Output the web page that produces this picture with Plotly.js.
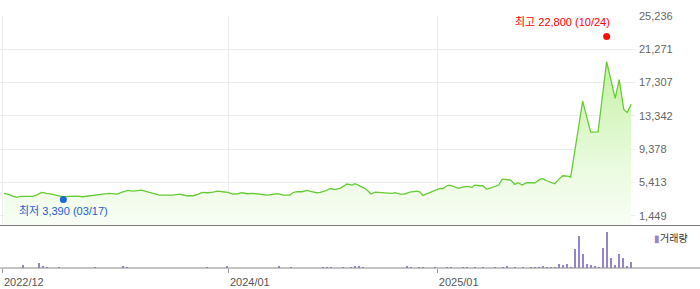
<!DOCTYPE html>
<html>
<head>
<meta charset="utf-8">
<script src="https://cdn.plot.ly/plotly-3.0.1.min.js"></script>
<style>html,body{margin:0;padding:0;background:#fff;}#chart{width:700px;height:289px;}</style>
</head>
<body>
<div id="chart"></div>
<script>
// ---- data ----
const priceDates = [
"2022-12-03","2022-12-11","2022-12-18","2022-12-25","2023-01-01","2023-01-12","2023-01-22","2023-01-29",
"2023-02-07","2023-02-16","2023-02-25","2023-03-07","2023-03-16","2023-03-28","2023-04-10","2023-04-20",
"2023-05-02","2023-05-15","2023-05-25","2023-06-06","2023-06-19","2023-06-27","2023-07-08","2023-07-17",
"2023-07-25","2023-08-01","2023-08-10","2023-08-19","2023-08-28","2023-09-02","2023-09-14","2023-09-25",
"2023-10-07","2023-10-19","2023-10-30","2023-11-08","2023-11-15","2023-11-25","2023-12-04","2023-12-13",
"2023-12-21","2023-12-30","2024-01-08","2024-01-17","2024-01-24","2024-02-02","2024-02-12","2024-02-24",
"2024-03-08","2024-03-18","2024-03-27","2024-04-05","2024-04-17","2024-04-22","2024-04-29","2024-05-08",
"2024-05-17","2024-05-25","2024-06-03","2024-06-09","2024-06-19","2024-06-26","2024-07-05","2024-07-14",
"2024-07-22","2024-07-26","2024-08-04","2024-08-09","2024-08-18","2024-08-26","2024-09-01","2024-09-06",
"2024-09-13","2024-09-22","2024-10-04","2024-10-13","2024-10-18","2024-10-27","2024-11-04","2024-11-13",
"2024-11-26","2024-12-01","2024-12-06","2024-12-13","2024-12-22","2024-12-31","2025-01-05","2025-01-10",
"2025-01-17","2025-01-22","2025-01-31","2025-02-07","2025-02-14","2025-02-23","2025-03-02","2025-03-07",
"2025-03-16","2025-03-21","2025-03-28","2025-04-04","2025-04-11","2025-04-18","2025-04-24","2025-05-02",
"2025-05-09","2025-05-16","2025-05-22","2025-05-29","2025-06-06","2025-06-17","2025-06-20","2025-06-29",
"2025-07-04","2025-07-11","2025-07-20","2025-07-25","2025-08-01","2025-08-08","2025-08-17","2025-08-22",
"2025-09-12","2025-09-26","2025-10-09","2025-10-24","2025-11-08","2025-11-15","2025-11-23","2025-11-29",
"2025-12-06"];
const priceValues = [
4113,3994,3792,3637,3756,3756,3756,3911,
4232,4113,4030,3828,3709,3756,3792,3709,
3828,3994,4030,4113,4030,4232,4470,4387,
4423,4506,4304,4113,3994,3911,3911,3911,
4030,3828,3828,3994,4232,4185,4268,4387,
4304,4232,4030,4066,4185,4066,4113,3994,
3911,3994,4066,3911,3911,4185,4304,4304,
4470,4304,4185,4232,4423,4660,4589,4708,
5017,5219,5100,5255,4981,4708,4387,4030,
4268,4232,4185,4113,4185,4030,4030,4268,
4387,4268,3875,4066,4304,4589,4708,4660,
5017,5100,4898,4708,4863,4946,4827,5100,
5017,5017,4589,4744,4981,5100,5814,5778,
5695,5184,5374,5100,5374,5374,5338,5778,
5850,5612,5338,5255,5778,6207,6171,6052,
15091,11404,11440,19813,15413,17672,14104,13747,
14735];

const volumeDates = [
"2023-01-06","2023-02-03","2023-02-10","2023-02-17","2023-03-10","2023-05-12","2023-06-30","2023-07-07",
"2023-11-24","2023-12-29","2024-03-29","2024-04-19","2024-06-14","2024-06-21","2024-06-28","2024-07-19",
"2024-08-02","2024-08-09","2024-08-16","2024-08-23","2024-11-08","2024-11-15","2024-11-29","2024-12-06",
"2024-12-27","2025-01-17","2025-01-24","2025-02-14","2025-02-21","2025-03-07","2025-03-21","2025-04-11",
"2025-04-25","2025-05-02","2025-05-16","2025-05-30","2025-06-13","2025-06-20","2025-06-27","2025-07-04",
"2025-07-11","2025-07-18","2025-07-25","2025-08-01","2025-08-08","2025-08-15","2025-08-22","2025-08-29",
"2025-09-05","2025-09-12","2025-09-19","2025-09-26","2025-10-03","2025-10-10","2025-10-17","2025-10-24",
"2025-10-31","2025-11-07","2025-11-14","2025-11-21","2025-11-28","2025-12-05"];
const volumeValues = [
330,530,230,130,130,130,230,130,
130,230,230,130,130,130,130,130,
130,230,230,130,230,130,130,130,
130,130,130,130,130,130,130,130,
130,230,130,130,130,130,130,230,
130,130,130,430,330,430,130,1930,
3230,1430,430,330,230,130,2030,3630,
1030,330,1430,1030,230,630];

const tickDates = ["2022-12-01","2024-01-01","2025-01-01"];
const tickLabels = ["2022/12","2024/01","2025/01"];
const priceTickVals = [1449,5413,9378,13342,17307,21271,25236];
const priceTickText = ["1,449","5,413","9,378","13,342","17,307","21,271","25,236"];

const highPoint = {date:"2025-10-24", value:22800, label:"최고 22,800 (10/24)"};
const lowPoint = {date:"2023-03-17", value:3390, label:"최저 3,390 (03/17)"};
const volumeLabel = "거래량";

// ---- chart ----
const FONT = "'Liberation Sans', Arial, 'Noto Sans CJK KR', sans-serif";
const W = 700, H = 289, ML = 0, MR = 65, MT = 16, MB = 21;
const PW = W - ML - MR, PH = H - MT - MB;
const py = function(px){ return (H - MB - px) / PH; }; // pixel row -> paper y

const traces = [
  {
    type:'scatter', mode:'lines', x:priceDates, y:priceValues, xaxis:'x', yaxis:'y',
    line:{color:'#66cc33', width:1.3},
    fill:'tozeroy',
    fillgradient:{type:'vertical', start:343, stop:19813,
      colorscale:[[0,'#f8fdf4'],[0.35,'#eafbe0'],[1,'#c6f1a3']]},
    hoverinfo:'skip'
  },
  {
    type:'bar', x:volumeDates, y:volumeValues, xaxis:'x2', yaxis:'y2',
    marker:{color:'#9684c9', line:{width:0}}, width:3.6*86400000, hoverinfo:'skip'
  },
  {
    type:'scatter', mode:'markers', x:[highPoint.date], y:[highPoint.value], xaxis:'x', yaxis:'y',
    marker:{color:'#ff0a0a', size:7}, hoverinfo:'skip', cliponaxis:false
  },
  {
    type:'scatter', mode:'markers', x:[lowPoint.date], y:[lowPoint.value], xaxis:'x', yaxis:'y',
    marker:{color:'#1f66d6', size:7}, hoverinfo:'skip', cliponaxis:false
  }
];

const layout = {
  width:W, height:H,
  margin:{l:ML, r:MR, t:MT, b:MB, pad:0},
  paper_bgcolor:'#ffffff', plot_bgcolor:'#ffffff',
  showlegend:false,
  font:{family:FONT, size:11, color:'#666'},
  bargap:0,
  xaxis:{
    type:'date', range:['2022-11-26','2025-12-12 17:00'], domain:[0,1], anchor:'y',
    tickvals:tickDates, showticklabels:false, ticks:'',
    showgrid:true, gridcolor:'#ebebeb', gridwidth:1, zeroline:false, showline:false, fixedrange:true
  },
  yaxis:{
    domain:[py(225), 1], range:[343, 25236], side:'right', anchor:'x',
    tickvals:priceTickVals, ticktext:priceTickText, ticks:'',
    showgrid:true, gridcolor:'#ebebeb', gridwidth:1, zeroline:false, showline:false,
    tickfont:{family:FONT, size:11, color:'#666'}, ticklabelstandoff:3, fixedrange:true
  },
  xaxis2:{
    type:'date', matches:'x', anchor:'y2', domain:[0,1],
    tickvals:tickDates, ticktext:tickLabels, ticks:'outside', ticklen:4, tickwidth:1, tickcolor:'#999',
    ticklabelshift:21, showgrid:false, zeroline:false, showline:false,
    tickfont:{family:FONT, size:11, color:'#555'}, fixedrange:true
  },
  yaxis2:{domain:[0, py(227)], range:[0,4100], visible:false, fixedrange:true},
  shapes:[
    {type:'line', xref:'paper', yref:'paper', x0:-ML/PW, x1:(W-ML)/PW, y0:py(225.5), y1:py(225.5),
     line:{color:'#7a7a7a', width:1}},
    {type:'line', xref:'paper', yref:'paper', x0:-ML/PW, x1:(W-ML)/PW, y0:0, y1:0,
     line:{color:'#888888', width:1}}
  ],
  annotations:[
    {xref:'x', yref:'y', x:highPoint.date, y:highPoint.value, text:highPoint.label, showarrow:false,
     xanchor:'right', yanchor:'middle', xshift:5, yshift:14, font:{family:FONT, size:11, color:'#ff0000'}},
    {xref:'x', yref:'y', x:lowPoint.date, y:lowPoint.value, text:lowPoint.label, showarrow:false,
     xanchor:'center', yanchor:'middle', yshift:-12, font:{family:FONT, size:11, color:'#1a5fd1'}},
    {xref:'paper', yref:'paper', x:652/PW, y:py(238), xanchor:'left', yanchor:'middle', showarrow:false,
     text:'<span style="color:#9684c9">▮</span>' + volumeLabel, font:{family:FONT, size:10, color:'#333'}}
  ]
};

Plotly.newPlot('chart', traces, layout, {staticPlot:true, displayModeBar:false});
</script>
</body>
</html>
